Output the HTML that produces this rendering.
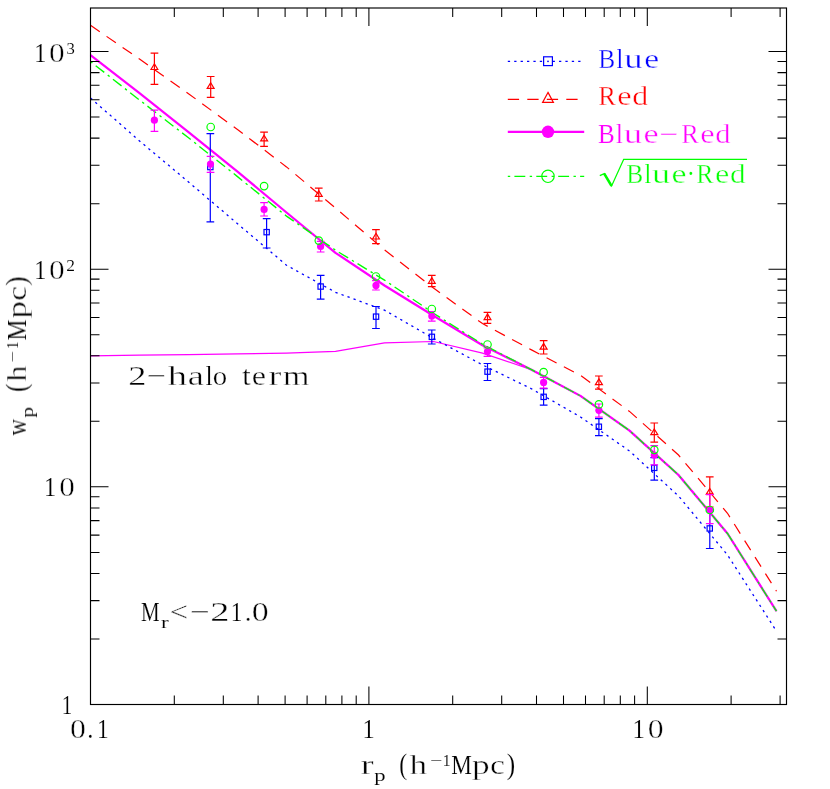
<!DOCTYPE html>
<html><head><meta charset="utf-8"><title>wp</title>
<style>html,body{margin:0;padding:0;background:#fff}svg{display:block}text{font-family:"Liberation Serif",serif}</style>
</head><body>
<svg width="830" height="789" viewBox="0 0 830 789">
<rect width="830" height="789" fill="#fff"/>
<path d="M90.5,355.8 L139.5,355.2 L188.5,354.6 L237.5,353.9 L286.5,353.1 L335.5,351.3 L384.5,342.8 L433.5,341.5 L482.5,353.1 L531.5,369.7 L580.5,395.9 L629.5,430.6 L678.5,475.0 L727.5,533.5 L776.5,611.2" fill="none" stroke="#ff00ff" stroke-width="1.2"/>
<path d="M90.5,98.0 L139.5,140.9 L188.5,182.0 L237.5,223.7 L286.5,265.2 L335.5,292.3 L384.5,310.2 L433.5,338.4 L482.5,364.9 L531.5,388.8 L580.5,417.0 L629.5,451.0 L678.5,496.0 L727.5,554.9 L776.5,631.2" fill="none" stroke="#0000ff" stroke-width="1.3" stroke-dasharray="2.3 4.1"/>
<path d="M90.5,25.3 L139.5,59.1 L188.5,93.7 L237.5,129.5 L286.5,166.9 L335.5,208.0 L384.5,249.9 L433.5,288.0 L482.5,323.6 L531.5,349.9 L580.5,375.4 L629.5,411.4 L678.5,455.0 L727.5,513.3 L776.5,591.2" fill="none" stroke="#ff0000" stroke-width="1.2" stroke-dasharray="11.3 8.2"/>
<path d="M90.5,55.2 L139.5,93.1 L188.5,132.1 L237.5,171.6 L286.5,212.5 L335.5,252.8 L384.5,285.5 L433.5,315.8 L482.5,345.3 L531.5,369.7 L580.5,395.9 L629.5,430.6 L678.5,475.0 L727.5,533.5 L776.5,611.2" fill="none" stroke="#ff00ff" stroke-width="2.2" stroke-linejoin="round"/>
<path d="M90.5,61.6 L139.5,100.0 L188.5,137.8 L237.5,176.6 L286.5,216.1 L335.5,250.2 L384.5,280.1 L433.5,313.2 L482.5,344.2 L531.5,369.7 L580.5,395.9 L629.5,430.6 L678.5,475.0 L727.5,533.5 L776.5,611.2" fill="none" stroke="#00ff00" stroke-width="1.35" stroke-dasharray="2.4 4.2 10.9 4.4"/>
<path d="M210.3,133.6V221.9M206.5,133.6h7.7M206.5,221.9h7.7" stroke="#0000ff" stroke-width="1.2" fill="none"/>
<rect x="207.7" y="164.4" width="5.3" height="5.3" fill="none" stroke="#0000ff" stroke-width="1.2"/>
<path d="M266.6,218.6V248.0M262.8,218.6h7.7M262.8,248.0h7.7" stroke="#0000ff" stroke-width="1.2" fill="none"/>
<rect x="264.0" y="229.5" width="5.3" height="5.3" fill="none" stroke="#0000ff" stroke-width="1.2"/>
<path d="M320.6,275.3V299.2M316.8,275.3h7.7M316.8,299.2h7.7" stroke="#0000ff" stroke-width="1.2" fill="none"/>
<rect x="318.0" y="283.9" width="5.3" height="5.3" fill="none" stroke="#0000ff" stroke-width="1.2"/>
<path d="M376.0,306.5V328.5M372.1,306.5h7.7M372.1,328.5h7.7" stroke="#0000ff" stroke-width="1.2" fill="none"/>
<rect x="373.4" y="314.0" width="5.3" height="5.3" fill="none" stroke="#0000ff" stroke-width="1.2"/>
<path d="M431.8,330.0V344.0M427.9,330.0h7.7M427.9,344.0h7.7" stroke="#0000ff" stroke-width="1.2" fill="none"/>
<rect x="429.2" y="334.2" width="5.3" height="5.3" fill="none" stroke="#0000ff" stroke-width="1.2"/>
<path d="M487.5,363.5V380.5M483.6,363.5h7.7M483.6,380.5h7.7" stroke="#0000ff" stroke-width="1.2" fill="none"/>
<rect x="484.9" y="369.0" width="5.3" height="5.3" fill="none" stroke="#0000ff" stroke-width="1.2"/>
<path d="M543.6,388.7V405.2M539.8,388.7h7.7M539.8,405.2h7.7" stroke="#0000ff" stroke-width="1.2" fill="none"/>
<rect x="541.0" y="394.2" width="5.3" height="5.3" fill="none" stroke="#0000ff" stroke-width="1.2"/>
<path d="M598.9,418.6V435.6M595.0,418.6h7.7M595.0,435.6h7.7" stroke="#0000ff" stroke-width="1.2" fill="none"/>
<rect x="596.2" y="424.1" width="5.3" height="5.3" fill="none" stroke="#0000ff" stroke-width="1.2"/>
<path d="M654.3,457.7V480.1M650.4,457.7h7.7M650.4,480.1h7.7" stroke="#0000ff" stroke-width="1.2" fill="none"/>
<rect x="651.6" y="465.2" width="5.3" height="5.3" fill="none" stroke="#0000ff" stroke-width="1.2"/>
<path d="M709.8,511.0V548.5M705.9,511.0h7.7M705.9,548.5h7.7" stroke="#0000ff" stroke-width="1.2" fill="none"/>
<rect x="707.1" y="525.8" width="5.3" height="5.3" fill="none" stroke="#0000ff" stroke-width="1.2"/>
<path d="M154.4,53.1V84.4M150.6,53.1h7.7M150.6,84.4h7.7" stroke="#ff0000" stroke-width="1.2" fill="none"/>
<path d="M154.4,63.8L157.8,69.5H151.0Z" fill="none" stroke="#ff0000" stroke-width="1.2"/>
<path d="M210.7,76.5V97.4M206.8,76.5h7.7M206.8,97.4h7.7" stroke="#ff0000" stroke-width="1.2" fill="none"/>
<path d="M210.7,82.7L214.1,88.4H207.2Z" fill="none" stroke="#ff0000" stroke-width="1.2"/>
<path d="M264.1,132.1V146.3M260.2,132.1h7.7M260.2,146.3h7.7" stroke="#ff0000" stroke-width="1.2" fill="none"/>
<path d="M264.1,135.2L267.6,140.9H260.7Z" fill="none" stroke="#ff0000" stroke-width="1.2"/>
<path d="M318.8,188.1V201.0M314.9,188.1h7.7M314.9,201.0h7.7" stroke="#ff0000" stroke-width="1.2" fill="none"/>
<path d="M318.8,190.7L322.2,196.4H315.4Z" fill="none" stroke="#ff0000" stroke-width="1.2"/>
<path d="M376.0,229.7V243.6M372.1,229.7h7.7M372.1,243.6h7.7" stroke="#ff0000" stroke-width="1.2" fill="none"/>
<path d="M376.0,233.3L379.4,239.0H372.6Z" fill="none" stroke="#ff0000" stroke-width="1.2"/>
<path d="M431.8,275.3V286.7M427.9,275.3h7.7M427.9,286.7h7.7" stroke="#ff0000" stroke-width="1.2" fill="none"/>
<path d="M431.8,277.6L435.2,283.3H428.4Z" fill="none" stroke="#ff0000" stroke-width="1.2"/>
<path d="M487.5,312.3V323.4M483.6,312.3h7.7M483.6,323.4h7.7" stroke="#ff0000" stroke-width="1.2" fill="none"/>
<path d="M487.5,313.9L490.9,319.6H484.1Z" fill="none" stroke="#ff0000" stroke-width="1.2"/>
<path d="M543.6,340.6V354.0M539.8,340.6h7.7M539.8,354.0h7.7" stroke="#ff0000" stroke-width="1.2" fill="none"/>
<path d="M543.6,343.4L547.1,349.1H540.1Z" fill="none" stroke="#ff0000" stroke-width="1.2"/>
<path d="M598.9,376.0V389.2M595.0,376.0h7.7M595.0,389.2h7.7" stroke="#ff0000" stroke-width="1.2" fill="none"/>
<path d="M598.9,378.9L602.4,384.6H595.4Z" fill="none" stroke="#ff0000" stroke-width="1.2"/>
<path d="M654.3,423.0V442.2M650.4,423.0h7.7M650.4,442.2h7.7" stroke="#ff0000" stroke-width="1.2" fill="none"/>
<path d="M654.3,429.0L657.8,434.7H650.8Z" fill="none" stroke="#ff0000" stroke-width="1.2"/>
<path d="M709.8,476.8V507.0M705.9,476.8h7.7M705.9,507.0h7.7" stroke="#ff0000" stroke-width="1.2" fill="none"/>
<path d="M709.8,488.5L713.2,494.2H706.3Z" fill="none" stroke="#ff0000" stroke-width="1.2"/>
<path d="M154.4,110.1V131.3M150.6,110.1h7.7M150.6,131.3h7.7" stroke="#ff00ff" stroke-width="1.2" fill="none"/>
<circle cx="154.4" cy="120.2" r="3.6" fill="#ff00ff"/>
<path d="M210.5,156.3V172.3M206.7,156.3h7.7M206.7,172.3h7.7" stroke="#ff00ff" stroke-width="1.2" fill="none"/>
<circle cx="210.5" cy="164.1" r="3.6" fill="#ff00ff"/>
<path d="M264.1,202.6V216.0M260.2,202.6h7.7M260.2,216.0h7.7" stroke="#ff00ff" stroke-width="1.2" fill="none"/>
<circle cx="264.1" cy="209.4" r="3.6" fill="#ff00ff"/>
<path d="M320.6,241.4V252.0M316.8,241.4h7.7M316.8,252.0h7.7" stroke="#ff00ff" stroke-width="1.2" fill="none"/>
<circle cx="320.6" cy="246.4" r="3.6" fill="#ff00ff"/>
<path d="M376.0,280.6V290.0M372.1,280.6h7.7M372.1,290.0h7.7" stroke="#ff00ff" stroke-width="1.2" fill="none"/>
<circle cx="376.0" cy="285.4" r="3.6" fill="#ff00ff"/>
<path d="M431.8,311.5V321.2M427.9,311.5h7.7M427.9,321.2h7.7" stroke="#ff00ff" stroke-width="1.2" fill="none"/>
<circle cx="431.8" cy="316.1" r="3.6" fill="#ff00ff"/>
<path d="M487.5,347.8V356.4M483.6,347.8h7.7M483.6,356.4h7.7" stroke="#ff00ff" stroke-width="1.2" fill="none"/>
<circle cx="487.5" cy="351.6" r="3.6" fill="#ff00ff"/>
<path d="M543.6,377.3V388.2M539.8,377.3h7.7M539.8,388.2h7.7" stroke="#ff00ff" stroke-width="1.2" fill="none"/>
<circle cx="543.6" cy="382.4" r="3.6" fill="#ff00ff"/>
<path d="M598.9,404.0V417.1M595.0,404.0h7.7M595.0,417.1h7.7" stroke="#ff00ff" stroke-width="1.2" fill="none"/>
<circle cx="598.9" cy="410.3" r="3.6" fill="#ff00ff"/>
<path d="M654.3,445.6V464.8M650.4,445.6h7.7M650.4,464.8h7.7" stroke="#ff00ff" stroke-width="1.2" fill="none"/>
<circle cx="654.3" cy="455.2" r="3.6" fill="#ff00ff"/>
<path d="M709.8,494.6V523.6M705.9,494.6h7.7M705.9,523.6h7.7" stroke="#ff00ff" stroke-width="1.2" fill="none"/>
<circle cx="709.8" cy="510.0" r="3.6" fill="#ff00ff"/>
<circle cx="210.7" cy="127.0" r="3.75" fill="none" stroke="#00ff00" stroke-width="1.2"/>
<circle cx="264.1" cy="186.1" r="3.75" fill="none" stroke="#00ff00" stroke-width="1.2"/>
<circle cx="318.8" cy="240.6" r="3.75" fill="none" stroke="#00ff00" stroke-width="1.2"/>
<circle cx="376.0" cy="276.5" r="3.75" fill="none" stroke="#00ff00" stroke-width="1.2"/>
<circle cx="431.8" cy="309.0" r="3.75" fill="none" stroke="#00ff00" stroke-width="1.2"/>
<circle cx="487.5" cy="344.5" r="3.75" fill="none" stroke="#00ff00" stroke-width="1.2"/>
<circle cx="543.6" cy="372.2" r="3.75" fill="none" stroke="#00ff00" stroke-width="1.2"/>
<circle cx="598.9" cy="404.4" r="3.75" fill="none" stroke="#00ff00" stroke-width="1.2"/>
<circle cx="654.3" cy="449.8" r="3.75" fill="none" stroke="#00ff00" stroke-width="1.2"/>
<circle cx="709.8" cy="510.0" r="3.75" fill="none" stroke="#00ff00" stroke-width="1.2"/>
<path d="M174.3,704.5v-9M174.3,8.0v9M223.3,704.5v-9M223.3,8.0v9M258.1,704.5v-9M258.1,8.0v9M285.1,704.5v-9M285.1,8.0v9M307.1,704.5v-9M307.1,8.0v9M325.8,704.5v-9M325.8,8.0v9M341.9,704.5v-9M341.9,8.0v9M356.2,704.5v-9M356.2,8.0v9M368.9,704.5v-18M368.9,8.0v18M452.7,704.5v-9M452.7,8.0v9M501.7,704.5v-9M501.7,8.0v9M536.5,704.5v-9M536.5,8.0v9M563.5,704.5v-9M563.5,8.0v9M585.5,704.5v-9M585.5,8.0v9M604.2,704.5v-9M604.2,8.0v9M620.3,704.5v-9M620.3,8.0v9M634.6,704.5v-9M634.6,8.0v9M647.3,704.5v-18M647.3,8.0v18M731.1,704.5v-9M731.1,8.0v9M780.1,704.5v-9M780.1,8.0v9M90.5,639.0h9M786.5,639.0h-9M90.5,600.6h9M786.5,600.6h-9M90.5,573.5h9M786.5,573.5h-9M90.5,552.4h9M786.5,552.4h-9M90.5,535.1h9M786.5,535.1h-9M90.5,520.6h9M786.5,520.6h-9M90.5,507.9h9M786.5,507.9h-9M90.5,496.8h9M786.5,496.8h-9M90.5,486.8h18M786.5,486.8h-18M90.5,421.3h9M786.5,421.3h-9M90.5,383.0h9M786.5,383.0h-9M90.5,355.8h9M786.5,355.8h-9M90.5,334.7h9M786.5,334.7h-9M90.5,317.5h9M786.5,317.5h-9M90.5,302.9h9M786.5,302.9h-9M90.5,290.3h9M786.5,290.3h-9M90.5,279.1h9M786.5,279.1h-9M90.5,269.2h18M786.5,269.2h-18M90.5,203.7h9M786.5,203.7h-9M90.5,165.3h9M786.5,165.3h-9M90.5,138.1h9M786.5,138.1h-9M90.5,117.0h9M786.5,117.0h-9M90.5,99.8h9M786.5,99.8h-9M90.5,85.2h9M786.5,85.2h-9M90.5,72.6h9M786.5,72.6h-9M90.5,61.5h9M786.5,61.5h-9M90.5,51.5h18M786.5,51.5h-18" stroke="#000" stroke-width="1.05" fill="none"/>
<rect x="90.5" y="8.0" width="696.0" height="696.5" fill="none" stroke="#000" stroke-width="1.15"/>
<g font-family="'Liberation Serif', serif" opacity="0.999">
<text transform="translate(34.18,61.60) scale(0.878,1)" font-size="27.5" fill="#000" stroke="#fff" stroke-width="0.15" vector-effect="non-scaling-stroke">1</text>
<text transform="translate(48.90,61.60) scale(1.141,1)" font-size="27.5" fill="#000" stroke="#fff" stroke-width="0.45" vector-effect="non-scaling-stroke">0</text>
<text transform="translate(34.18,279.00) scale(0.878,1)" font-size="27.5" fill="#000" stroke="#fff" stroke-width="0.15" vector-effect="non-scaling-stroke">1</text>
<text transform="translate(48.90,279.00) scale(1.141,1)" font-size="27.5" fill="#000" stroke="#fff" stroke-width="0.45" vector-effect="non-scaling-stroke">0</text>
<text transform="translate(44.08,496.40) scale(0.878,1)" font-size="27.5" fill="#000" stroke="#fff" stroke-width="0.15" vector-effect="non-scaling-stroke">1</text>
<text transform="translate(59.21,496.40) scale(1.133,1)" font-size="27.5" fill="#000" stroke="#fff" stroke-width="0.45" vector-effect="non-scaling-stroke">0</text>
<text transform="translate(66.40,53.60) scale(1.012,1)" font-size="16.5" fill="#000" stroke="#fff" stroke-width="0.10" vector-effect="non-scaling-stroke">3</text>
<text transform="translate(66.23,270.80) scale(1.058,1)" font-size="16.5" fill="#000" stroke="#fff" stroke-width="0.10" vector-effect="non-scaling-stroke">2</text>
<text transform="translate(61.75,713.80) scale(0.764,1)" font-size="27.5" fill="#000" stroke="#fff" stroke-width="0.15" vector-effect="non-scaling-stroke">1</text>
<text transform="translate(69.89,737.80) scale(1.158,1)" font-size="27.5" fill="#000" stroke="#fff" stroke-width="0.45" vector-effect="non-scaling-stroke">0</text>
<text transform="translate(87.28,737.80) scale(0.892,1)" font-size="27.5" fill="#000" stroke="#fff" stroke-width="0.15" vector-effect="non-scaling-stroke">.</text>
<text transform="translate(96.95,737.80) scale(0.847,1)" font-size="27.5" fill="#000" stroke="#fff" stroke-width="0.15" vector-effect="non-scaling-stroke">1</text>
<text transform="translate(362.45,737.80) scale(0.888,1)" font-size="27.5" fill="#000" stroke="#fff" stroke-width="0.15" vector-effect="non-scaling-stroke">1</text>
<text transform="translate(632.43,737.80) scale(0.899,1)" font-size="27.5" fill="#000" stroke="#fff" stroke-width="0.15" vector-effect="non-scaling-stroke">1</text>
<text transform="translate(647.79,737.80) scale(1.158,1)" font-size="27.5" fill="#000" stroke="#fff" stroke-width="0.45" vector-effect="non-scaling-stroke">0</text>
<text transform="translate(360.82,774.40) scale(1.400,1)" font-size="27.5" fill="#000" stroke="#fff" stroke-width="0.45" vector-effect="non-scaling-stroke">r</text>
<text transform="translate(399.16,774.40) scale(0.864,1.1)" font-size="27.5" fill="#000" stroke="#fff" stroke-width="0.15" vector-effect="non-scaling-stroke">(</text>
<text transform="translate(409.56,774.40) scale(1.281,1)" font-size="27.5" fill="#000" stroke="#fff" stroke-width="0.45" vector-effect="non-scaling-stroke">h</text>
<text transform="translate(451.33,774.40) scale(0.844,1)" font-size="27.5" fill="#000" stroke="#fff" stroke-width="0.15" vector-effect="non-scaling-stroke">M</text>
<text transform="translate(471.93,774.40) scale(1.283,1)" font-size="27.5" fill="#000" stroke="#fff" stroke-width="0.45" vector-effect="non-scaling-stroke">p</text>
<text transform="translate(490.02,774.40) scale(1.222,1)" font-size="27.5" fill="#000" stroke="#fff" stroke-width="0.45" vector-effect="non-scaling-stroke">c</text>
<text transform="translate(506.68,774.40) scale(0.920,1.1)" font-size="27.5" fill="#000" stroke="#fff" stroke-width="0.15" vector-effect="non-scaling-stroke">)</text>
<text transform="translate(374.13,781.00) scale(1.376,1)" font-size="16.5" fill="#000" stroke="#fff" stroke-width="0.10" vector-effect="non-scaling-stroke">p</text>
<text transform="translate(430.02,766.00) scale(1.315,1)" font-size="16.5" fill="#000" stroke="#fff" stroke-width="0.10" vector-effect="non-scaling-stroke">−</text>
<text transform="translate(442.73,766.00) scale(0.947,1)" font-size="16.5" fill="#000" stroke="#fff" stroke-width="0.10" vector-effect="non-scaling-stroke">1</text>
<g transform="translate(26.0,435.6) rotate(-90)">
<text transform="translate(-0.02,0.00) scale(0.832,1)" font-size="27.5" fill="#000" stroke="#fff" stroke-width="0.15" vector-effect="non-scaling-stroke">w</text>
<text transform="translate(43.82,0.00) scale(0.892,1.1)" font-size="27.5" fill="#000" stroke="#fff" stroke-width="0.15" vector-effect="non-scaling-stroke">(</text>
<text transform="translate(54.08,0.00) scale(1.174,1)" font-size="27.5" fill="#000" stroke="#fff" stroke-width="0.45" vector-effect="non-scaling-stroke">h</text>
<text transform="translate(95.33,0.00) scale(0.849,1)" font-size="27.5" fill="#000" stroke="#fff" stroke-width="0.15" vector-effect="non-scaling-stroke">M</text>
<text transform="translate(117.14,0.00) scale(1.259,1)" font-size="27.5" fill="#000" stroke="#fff" stroke-width="0.45" vector-effect="non-scaling-stroke">p</text>
<text transform="translate(134.73,0.00) scale(1.212,1)" font-size="27.5" fill="#000" stroke="#fff" stroke-width="0.45" vector-effect="non-scaling-stroke">c</text>
<text transform="translate(149.87,0.00) scale(1.048,1.1)" font-size="27.5" fill="#000" stroke="#fff" stroke-width="0.32" vector-effect="non-scaling-stroke">)</text>
<text transform="translate(17.96,7.20) scale(1.294,1)" font-size="16.5" fill="#000" stroke="#fff" stroke-width="0.10" vector-effect="non-scaling-stroke">p</text>
<text transform="translate(73.08,-8.40) scale(1.237,1)" font-size="16.5" fill="#000" stroke="#fff" stroke-width="0.10" vector-effect="non-scaling-stroke">−</text>
<text transform="translate(86.73,-8.40) scale(0.878,1)" font-size="16.5" fill="#000" stroke="#fff" stroke-width="0.10" vector-effect="non-scaling-stroke">1</text>
</g>
<text transform="translate(128.30,384.50) scale(1.324,1)" font-size="27.5" fill="#000" stroke="#fff" stroke-width="0.45" vector-effect="non-scaling-stroke">2</text>
<text transform="translate(146.70,384.50) scale(1.243,1)" font-size="27.5" fill="#000" stroke="#fff" stroke-width="0.45" vector-effect="non-scaling-stroke">−</text>
<text transform="translate(167.79,384.50) scale(1.400,1)" font-size="27.5" fill="#000" stroke="#fff" stroke-width="0.45" vector-effect="non-scaling-stroke">h</text>
<text transform="translate(187.73,384.50) scale(1.316,1)" font-size="27.5" fill="#000" stroke="#fff" stroke-width="0.45" vector-effect="non-scaling-stroke">a</text>
<text transform="translate(205.39,384.50) scale(0.933,1)" font-size="27.5" fill="#000" stroke="#fff" stroke-width="0.15" vector-effect="non-scaling-stroke">l</text>
<text transform="translate(212.80,384.50) scale(1.047,1)" font-size="27.5" fill="#000" stroke="#fff" stroke-width="0.32" vector-effect="non-scaling-stroke">o</text>
<text transform="translate(242.20,384.50) scale(1.109,1)" font-size="27.5" fill="#000" stroke="#fff" stroke-width="0.32" vector-effect="non-scaling-stroke">t</text>
<text transform="translate(251.84,384.50) scale(1.169,1)" font-size="27.5" fill="#000" stroke="#fff" stroke-width="0.45" vector-effect="non-scaling-stroke">e</text>
<text transform="translate(268.47,384.50) scale(1.400,1)" font-size="27.5" fill="#000" stroke="#fff" stroke-width="0.45" vector-effect="non-scaling-stroke">r</text>
<text transform="translate(282.89,384.50) scale(1.236,1)" font-size="27.5" fill="#000" stroke="#fff" stroke-width="0.45" vector-effect="non-scaling-stroke">m</text>
<text transform="translate(140.90,620.70) scale(0.761,1)" font-size="27.5" fill="#000" stroke="#fff" stroke-width="0.15" vector-effect="non-scaling-stroke">M</text>
<text transform="translate(169.55,620.70) scale(1.203,1)" font-size="27.5" fill="#000" stroke="#fff" stroke-width="0.45" vector-effect="non-scaling-stroke">&lt;</text>
<text transform="translate(189.94,620.70) scale(1.282,1)" font-size="27.5" fill="#000" stroke="#fff" stroke-width="0.45" vector-effect="non-scaling-stroke">−</text>
<text transform="translate(210.24,620.70) scale(1.400,1)" font-size="27.5" fill="#000" stroke="#fff" stroke-width="0.45" vector-effect="non-scaling-stroke">2</text>
<text transform="translate(230.65,620.70) scale(0.847,1)" font-size="27.5" fill="#000" stroke="#fff" stroke-width="0.15" vector-effect="non-scaling-stroke">1</text>
<text transform="translate(244.81,620.70) scale(0.985,1)" font-size="27.5" fill="#000" stroke="#fff" stroke-width="0.32" vector-effect="non-scaling-stroke">.</text>
<text transform="translate(251.81,620.70) scale(1.235,1)" font-size="27.5" fill="#000" stroke="#fff" stroke-width="0.45" vector-effect="non-scaling-stroke">0</text>
<text transform="translate(160.92,627.50) scale(1.400,1)" font-size="16.5" fill="#000" stroke="#fff" stroke-width="0.10" vector-effect="non-scaling-stroke">r</text>
<text transform="translate(598.37,67.60) scale(0.960,1)" font-size="26.5" fill="#0000ff" stroke="#fff" stroke-width="0.32" vector-effect="non-scaling-stroke">B</text>
<text transform="translate(616.51,67.60) scale(0.920,1)" font-size="26.5" fill="#0000ff" stroke="#fff" stroke-width="0.15" vector-effect="non-scaling-stroke">l</text>
<text transform="translate(624.21,67.60) scale(1.390,1)" font-size="26.5" fill="#0000ff" stroke="#fff" stroke-width="0.45" vector-effect="non-scaling-stroke">u</text>
<text transform="translate(644.19,67.60) scale(1.264,1)" font-size="26.5" fill="#0000ff" stroke="#fff" stroke-width="0.45" vector-effect="non-scaling-stroke">e</text>
<text transform="translate(598.34,105.40) scale(1.002,1)" font-size="26.5" fill="#ff0000" stroke="#fff" stroke-width="0.32" vector-effect="non-scaling-stroke">R</text>
<text transform="translate(617.23,105.40) scale(1.223,1)" font-size="26.5" fill="#ff0000" stroke="#fff" stroke-width="0.45" vector-effect="non-scaling-stroke">e</text>
<text transform="translate(632.25,105.40) scale(1.203,1)" font-size="26.5" fill="#ff0000" stroke="#fff" stroke-width="0.45" vector-effect="non-scaling-stroke">d</text>
<text transform="translate(597.98,143.30) scale(0.948,1)" font-size="26.5" fill="#ff00ff" stroke="#fff" stroke-width="0.15" vector-effect="non-scaling-stroke">B</text>
<text transform="translate(616.11,143.30) scale(0.920,1)" font-size="26.5" fill="#ff00ff" stroke="#fff" stroke-width="0.15" vector-effect="non-scaling-stroke">l</text>
<text transform="translate(623.81,143.30) scale(1.398,1)" font-size="26.5" fill="#ff00ff" stroke="#fff" stroke-width="0.45" vector-effect="non-scaling-stroke">u</text>
<text transform="translate(643.57,143.30) scale(1.285,1)" font-size="26.5" fill="#ff00ff" stroke="#fff" stroke-width="0.45" vector-effect="non-scaling-stroke">e</text>
<text transform="translate(659.61,143.30) scale(1.281,1)" font-size="26.5" fill="#ff00ff" stroke="#fff" stroke-width="0.45" vector-effect="non-scaling-stroke">−</text>
<text transform="translate(681.34,143.30) scale(0.996,1)" font-size="26.5" fill="#ff00ff" stroke="#fff" stroke-width="0.32" vector-effect="non-scaling-stroke">R</text>
<text transform="translate(700.13,143.30) scale(1.223,1)" font-size="26.5" fill="#ff00ff" stroke="#fff" stroke-width="0.45" vector-effect="non-scaling-stroke">e</text>
<text transform="translate(715.20,143.30) scale(1.153,1)" font-size="26.5" fill="#ff00ff" stroke="#fff" stroke-width="0.45" vector-effect="non-scaling-stroke">d</text>
<text transform="translate(626.27,182.60) scale(0.960,1)" font-size="26.5" fill="#00ff00" stroke="#fff" stroke-width="0.32" vector-effect="non-scaling-stroke">B</text>
<text transform="translate(644.41,182.60) scale(0.920,1)" font-size="26.5" fill="#00ff00" stroke="#fff" stroke-width="0.15" vector-effect="non-scaling-stroke">l</text>
<text transform="translate(652.12,182.60) scale(1.366,1)" font-size="26.5" fill="#00ff00" stroke="#fff" stroke-width="0.45" vector-effect="non-scaling-stroke">u</text>
<text transform="translate(671.58,182.60) scale(1.274,1)" font-size="26.5" fill="#00ff00" stroke="#fff" stroke-width="0.45" vector-effect="non-scaling-stroke">e</text>
<text transform="translate(686.66,182.60) scale(0.926,1)" font-size="26.5" fill="#00ff00" stroke="#fff" stroke-width="0.15" vector-effect="non-scaling-stroke">·</text>
<text transform="translate(696.26,182.60) scale(0.972,1)" font-size="26.5" fill="#00ff00" stroke="#fff" stroke-width="0.32" vector-effect="non-scaling-stroke">R</text>
<text transform="translate(715.04,182.60) scale(1.213,1)" font-size="26.5" fill="#00ff00" stroke="#fff" stroke-width="0.45" vector-effect="non-scaling-stroke">e</text>
<text transform="translate(729.97,182.60) scale(1.178,1)" font-size="26.5" fill="#00ff00" stroke="#fff" stroke-width="0.45" vector-effect="non-scaling-stroke">d</text>
</g>
<path d="M599.8,175.6l4.6,-2l7.2,12.3l12.1,-26.6H747" fill="none" stroke="#00ff00" stroke-width="1.3" stroke-linejoin="miter"/>
<path d="M604.2,173.7l7.3,12.2" fill="none" stroke="#00ff00" stroke-width="2.6"/>
<path d="M507.8,61.3H584.2" stroke="#0000ff" stroke-width="1.3" stroke-dasharray="2.3 4.1"/>
<rect x="543.6" y="56.800000000000004" width="8.8" height="8.8" fill="#fff" stroke="none"/>
<rect x="543.6" y="56.8" width="8.8" height="8.8" fill="none" stroke="#0000ff" stroke-width="1.2"/>
<circle cx="548.0" cy="61.3" r="0.9" fill="#0000ff"/>
<path d="M507.8,99.3H584.2" stroke="#ff0000" stroke-width="1.2" stroke-dasharray="11.3 8.2"/>
<path d="M548.0,92.4L553.4,102.4H542.6Z" fill="none" stroke="#ff0000" stroke-width="1.2"/>
<path d="M507.8,131.8H584.2" stroke="#ff00ff" stroke-width="2.2"/>
<circle cx="548.0" cy="131.8" r="6.2" fill="#ff00ff"/>
<path d="M507.8,176.3H584.2" stroke="#00ff00" stroke-width="1.35" stroke-dasharray="2.4 4.2 10.9 4.4"/>
<circle cx="548.0" cy="176.3" r="6.2" fill="none" stroke="#00ff00" stroke-width="1.2"/>
</svg>
</body></html>
